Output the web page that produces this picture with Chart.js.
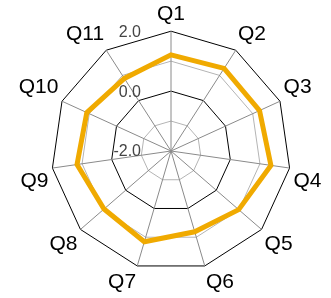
<!DOCTYPE html>
<html>
<head>
<meta charset="utf-8">
<script src="https://cdn.jsdelivr.net/npm/chart.js@4/dist/chart.umd.min.js"></script>
<style>
  body { margin: 0; background: #fff; }
  canvas { display: block; }
</style>
</head>
<body>
<canvas id="radar" width="331" height="298"></canvas>
<script>
const questions = ["Q1", "Q2", "Q3", "Q4", "Q5", "Q6", "Q7", "Q8", "Q9", "Q10", "Q11"]
const scores = [1.21, 1.28, 1.25, 1.37, 0.99, 0.81, 1.16, 0.96, 1.17, 1.09, 0.88]
const tickValues = [2, 0, -2]
const tickLabels = ["2.0", "0.0", "-2.0"]

// tick labels sit left of the vertical axis, right aligned
const tickLabelPlugin = {
    id: "tickLabels",
    afterDraw(chart) {
        const scale = chart.scales.r
        const ctx = chart.ctx
        ctx.save()
        ctx.font = "16px 'Liberation Sans'"
        ctx.fillStyle = "#444"
        ctx.textAlign = "right"
        ctx.textBaseline = "middle"
        tickValues.forEach((v, i) => {
            const d = scale.getDistanceFromCenterForValue(v)
            ctx.fillText(tickLabels[i], scale.xCenter - 30, scale.yCenter - d + 1)
        })
        ctx.restore()
    }
}

new Chart(document.getElementById("radar"), {
    type: "radar",
    data: {
        labels: questions,
        datasets: [{
            data: scores,
            borderColor: "#f0aa00",
            borderWidth: 5,
            fill: false,
            pointRadius: 0,
            tension: 0
        }]
    },
    options: {
        responsive: false,
        animation: false,
        layout: { padding: { left: 10, right: -14, top: -2, bottom: -16 } },
        plugins: {
            legend: { display: false },
            tooltip: { enabled: false }
        },
        scales: {
            r: {
                min: -2,
                max: 2,
                ticks: { stepSize: 1, display: false },
                grid: {
                    color: (c) => (c.tick && (c.tick.value === 0 || c.tick.value === 2)) ? "#000" : "#b4b4b4",
                    lineWidth: 1
                },
                angleLines: { color: "#8a8a8a", lineWidth: 1 },
                pointLabels: {
                    font: { family: "'Liberation Sans'", size: 21 },
                    color: "#000",
                    padding: 4
                }
            }
        }
    },
    plugins: [tickLabelPlugin]
})
</script>
</body>
</html>
